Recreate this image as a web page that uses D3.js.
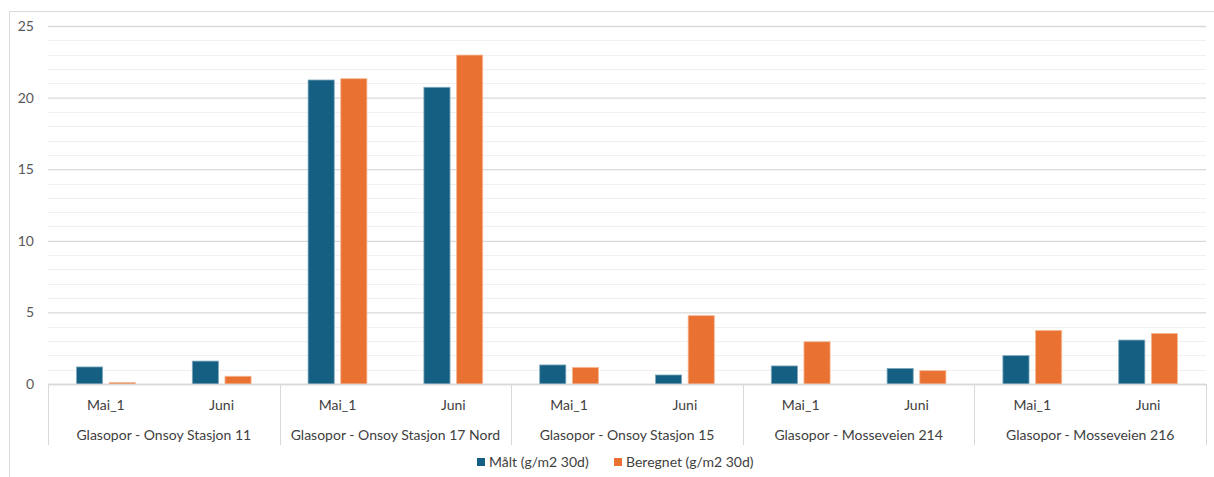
<!DOCTYPE html>
<html>
<head>
<meta charset="utf-8">
<title>Målt vs beregnet</title>
<script src="https://d3js.org/d3.v7.min.js"></script>
<style>
  body { margin: 0; background: #fff; }
  text { font-family: Lato, "Open Sans", sans-serif; }
</style>
</head>
<body>
<div id="chart"></div>
<script>
// stations and periods
var stations = ["Glasopor - Onsoy Stasjon 11", "Glasopor - Onsoy Stasjon 17 Nord", "Glasopor - Onsoy Stasjon 15", "Glasopor - Mosseveien 214", "Glasopor - Mosseveien 216"];
var periods = ["Mai_1", "Juni"];
var series = ["Målt (g/m2 30d)", "Beregnet (g/m2 30d)"];
// values per station, per period (Mai_1, Juni)
var malt = [[1.19, 1.6], [21.23, 20.72], [1.33, 0.63], [1.26, 1.09], [1.98, 3.07]];
var beregnet = [[0.1, 0.54], [21.32, 22.97], [1.16, 4.77], [2.95, 0.93], [3.74, 3.53]];
var yTicks = [0, 5, 10, 15, 20, 25];
var colors = ["#156082", "#E97132"];

var W = 1214, H = 477;
var margin = {top: 26, right: 8, bottom: 93, left: 48};
var width = W - margin.left - margin.right,
    height = H - margin.top - margin.bottom;

var svg = d3.select("#chart").append("svg")
    .attr("width", W).attr("height", H);

// outer frame
svg.append("path")
    .attr("d", "M9.5," + (H) + "V11.5H" + W)
    .attr("fill", "none").attr("stroke", "#d9d9d9");

var g = svg.append("g")
    .attr("transform", "translate(" + margin.left + "," + margin.top + ")");

// flat list of categories
var cats = [];
stations.forEach(function(s, i) {
  periods.forEach(function(p, j) {
    cats.push({station: i, period: p, key: i + "_" + j, vals: [malt[i][j], beregnet[i][j]]});
  });
});

var x0 = d3.scaleBand().domain(cats.map(function(d) { return d.key; })).range([0, width]).paddingInner(0).paddingOuter(0);
var x1 = d3.scaleBand().domain([0, 1]).range([28.5, x0.bandwidth() - 28.5]).paddingInner(0.2);
var y = d3.scaleLinear().domain([0, 25]).range([height, 0]);

// minor grid
g.append("g").selectAll("line")
  .data(d3.range(1, 26).filter(function(v) { return v % 5 != 0; }))
  .join("line")
    .attr("x1", 0).attr("x2", width)
    .attr("y1", function(d) { return Math.round(y(d)) + 0.5; })
    .attr("y2", function(d) { return Math.round(y(d)) + 0.5; })
    .attr("stroke", "#f0f0f0");

// major grid + y labels
var yAxis = g.append("g")
  .call(d3.axisLeft(y).tickValues(yTicks).tickSize(-width).tickPadding(14));
yAxis.select(".domain").remove();
yAxis.selectAll(".tick line").attr("stroke", "#d9d9d9").attr("stroke-width", 1.3);
yAxis.selectAll(".tick text").attr("fill", "#595959").style("font-size", "14px");

// bars
var grp = g.append("g").selectAll("g")
  .data(cats)
  .join("g")
    .attr("transform", function(d) { return "translate(" + x0(d.key) + ",0)"; });

grp.selectAll("rect")
  .data(function(d) { return d.vals; })
  .join("rect")
    .attr("x", function(d, i) { return x1(i); })
    .attr("width", x1.bandwidth())
    .attr("y", function(d) { return y(d); })
    .attr("height", function(d) { return y(0) - y(d); })
    .attr("fill", function(d, i) { return colors[i]; })
    .attr("stroke", function(d, i) { return i == 0 ? "#7fa9bd" : "#f5b894"; })
    .attr("stroke-width", 0.8);

// baseline
g.append("line")
    .attr("x1", 0).attr("x2", width)
    .attr("y1", height + 0.5).attr("y2", height + 0.5)
    .attr("stroke", "#d9d9d9").attr("stroke-width", 1.3);

// group separators
var stW = width / stations.length;
g.append("g").selectAll("line")
  .data(d3.range(stations.length + 1))
  .join("line")
    .attr("x1", function(d) { return Math.round(d * stW) + 0.5; })
    .attr("x2", function(d) { return Math.round(d * stW) + 0.5; })
    .attr("y1", height).attr("y2", height + 61)
    .attr("stroke", "#d9d9d9");

// period labels
g.append("g").selectAll("text")
  .data(cats)
  .join("text")
    .attr("x", function(d) { return x0(d.key) + x0.bandwidth() / 2; })
    .attr("y", height + 21)
    .attr("dy", "0.35em")
    .attr("text-anchor", "middle")
    .attr("fill", "#404040")
    .style("font-size", "14px")
    .text(function(d) { return d.period; });

// station labels
g.append("g").selectAll("text")
  .data(stations)
  .join("text")
    .attr("x", function(d, i) { return (i + 0.5) * stW; })
    .attr("y", height + 51)
    .attr("dy", "0.35em")
    .attr("text-anchor", "middle")
    .attr("fill", "#404040")
    .style("font-size", "14px")
    .text(function(d) { return d; });

// legend
var leg = svg.append("g").attr("transform", "translate(0,462)");
var legX = [477, 614];
series.forEach(function(s, i) {
  leg.append("rect")
    .attr("x", legX[i]).attr("y", -4)
    .attr("width", 8).attr("height", 8)
    .attr("fill", colors[i]);
  leg.append("text")
    .attr("x", legX[i] + 12).attr("y", 0)
    .attr("dy", "0.35em")
    .attr("fill", "#404040")
    .style("font-size", "14px")
    .text(s);
});
</script>
</body>
</html>
